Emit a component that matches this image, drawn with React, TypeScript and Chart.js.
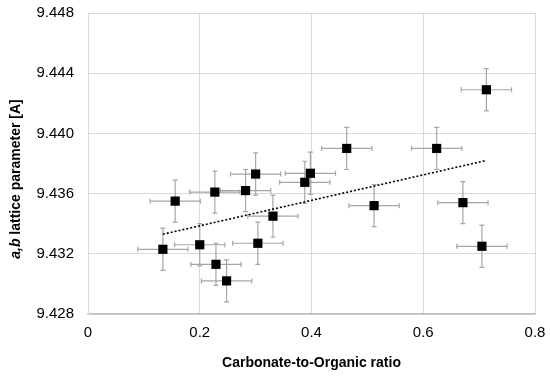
import React, { useEffect, useRef } from "react";
import { Chart, registerables } from "chart.js";

Chart.register(...registerables);

const ratio = [0.134, 0.156, 0.2, 0.227, 0.229, 0.248, 0.282, 0.3, 0.304, 0.331, 0.388, 0.398, 0.463, 0.512, 0.624, 0.671, 0.705, 0.713];
const latticeAB = [9.4323, 9.4355, 9.4326, 9.4361, 9.4313, 9.4302, 9.4362, 9.4373, 9.4327, 9.4345, 9.43675, 9.43735, 9.439, 9.4352, 9.439, 9.4354, 9.4325, 9.4429];
const ratioErr = [0.045, 0.045, 0.045, 0.045, 0.045, 0.045, 0.045, 0.045, 0.045, 0.045, 0.045, 0.045, 0.045, 0.045, 0.045, 0.045, 0.045, 0.045];
const latticeErr = [0.0014, 0.0014, 0.0014, 0.0014, 0.0014, 0.0014, 0.0014, 0.0014, 0.0014, 0.0014, 0.0014, 0.0014, 0.0014, 0.0014, 0.0014, 0.0014, 0.0014, 0.0014];
const trendX = [0.134, 0.713];
const trendY = [9.4333, 9.4382];
const xTicks = [0, 0.2, 0.4, 0.6, 0.8];
const yTicks = [9.428, 9.432, 9.436, 9.44, 9.444, 9.448];
const xTitle = "Carbonate-to-Organic ratio";
const yTitleItalic = "a,b";
const yTitleRest = " lattice parameter [A]";

const FONT = "'Liberation Sans', Arial, sans-serif";

const errorBarPlugin = {
  id: "errorBars",
  beforeDatasetsDraw(chart: any) {
    const { ctx, scales } = chart;
    const xs = scales.x;
    const ys = scales.y;
    ctx.save();
    ctx.strokeStyle = "#a6a6a6";
    ctx.lineWidth = 1.2;
    const cap = 2.5;
    for (let i = 0; i < ratio.length; i++) {
      const px = xs.getPixelForValue(ratio[i]);
      const py = ys.getPixelForValue(latticeAB[i]);
      const x1 = xs.getPixelForValue(ratio[i] - ratioErr[i]);
      const x2 = xs.getPixelForValue(ratio[i] + ratioErr[i]);
      const y1 = ys.getPixelForValue(latticeAB[i] - latticeErr[i]);
      const y2 = ys.getPixelForValue(latticeAB[i] + latticeErr[i]);
      ctx.beginPath();
      ctx.moveTo(x1, py);
      ctx.lineTo(x2, py);
      ctx.moveTo(x1, py - cap);
      ctx.lineTo(x1, py + cap);
      ctx.moveTo(x2, py - cap);
      ctx.lineTo(x2, py + cap);
      ctx.moveTo(px, y1);
      ctx.lineTo(px, y2);
      ctx.moveTo(px - cap, y1);
      ctx.lineTo(px + cap, y1);
      ctx.moveTo(px - cap, y2);
      ctx.lineTo(px + cap, y2);
      ctx.stroke();
    }
    ctx.restore();
  },
};

const yTitlePlugin = {
  id: "yTitleMixed",
  afterDraw(chart: any) {
    const { ctx } = chart;
    ctx.save();
    ctx.translate(16, 179);
    ctx.rotate(-Math.PI / 2);
    ctx.fillStyle = "#000";
    ctx.textBaseline = "middle";
    const f1 = `italic bold 14px ${FONT}`;
    const f2 = `bold 14px ${FONT}`;
    ctx.font = f1;
    const w1 = ctx.measureText(yTitleItalic).width;
    ctx.font = f2;
    const w2 = ctx.measureText(yTitleRest).width;
    const start = -(w1 + w2) / 2;
    ctx.textAlign = "left";
    ctx.font = f1;
    ctx.fillText(yTitleItalic, start, 0);
    ctx.font = f2;
    ctx.fillText(yTitleRest, start + w1, 0);
    ctx.restore();
  },
};

export default function App() {
  const ref = useRef<HTMLCanvasElement | null>(null);
  useEffect(() => {
    if (!ref.current) return;
    const chart = new Chart(ref.current, {
      type: "scatter",
      data: {
        datasets: [
          {
            label: "a,b lattice parameter",
            data: ratio.map((x, i) => ({ x, y: latticeAB[i] })),
            pointStyle: "rect",
            pointRadius: 6.5,
            pointBackgroundColor: "#000",
            pointBorderColor: "#000",
            pointBorderWidth: 0,
            showLine: false,
            order: 1,
          },
          {
            type: "line",
            label: "Linear trend",
            data: trendX.map((x, i) => ({ x, y: trendY[i] })),
            borderColor: "#000",
            borderWidth: 1.6,
            borderDash: [2, 2],
            pointRadius: 0,
            fill: false,
            order: 2,
          } as any,
        ],
      },
      options: {
        animation: false,
        responsive: false,
        maintainAspectRatio: false,
        layout: { padding: { left: 0, right: 15, top: 13, bottom: 0 } },
        plugins: {
          legend: { display: false },
          tooltip: { enabled: false },
        },
        scales: {
          x: {
            type: "linear",
            min: 0,
            max: 0.8,
            afterBuildTicks: (s: any) => {
              s.ticks = xTicks.map((v) => ({ value: v }));
            },
            afterFit: (s: any) => {
              s.height = 64;
              s.paddingLeft = 0;
              s.paddingRight = 0;
            },
            ticks: {
              color: "#000",
              font: { family: FONT, size: 15 },
              padding: 10,
              callback: (v: any) => String(v),
            },
            grid: { color: "#d9d9d9", lineWidth: 1, drawTicks: false },
            border: { color: "#bfbfbf", width: 1.5 },
            title: {
              display: true,
              text: xTitle,
              color: "#000",
              font: { family: FONT, size: 14, weight: "bold" },
              padding: { top: 8, bottom: 6 },
            },
          },
          y: {
            type: "linear",
            min: 9.428,
            max: 9.448,
            afterBuildTicks: (s: any) => {
              s.ticks = yTicks.map((v) => ({ value: v }));
            },
            afterFit: (s: any) => {
              s.width = 88;
              s.paddingTop = 0;
              s.paddingBottom = 0;
            },
            ticks: {
              color: "#000",
              font: { family: FONT, size: 15 },
              padding: 14,
              callback: (v: any) => Number(v).toFixed(3),
            },
            grid: { color: "#d9d9d9", lineWidth: 1, drawTicks: false },
            border: { color: "#d9d9d9", width: 1 },
          },
        },
      },
      plugins: [errorBarPlugin, yTitlePlugin],
    });
    return () => chart.destroy();
  }, []);
  return (
    <div style={{ position: "fixed", left: 0, top: 0, width: 550, height: 378, background: "#fff" }}>
      <canvas ref={ref} width={550} height={378} style={{ width: 550, height: 378 }} />
    </div>
  );
}
